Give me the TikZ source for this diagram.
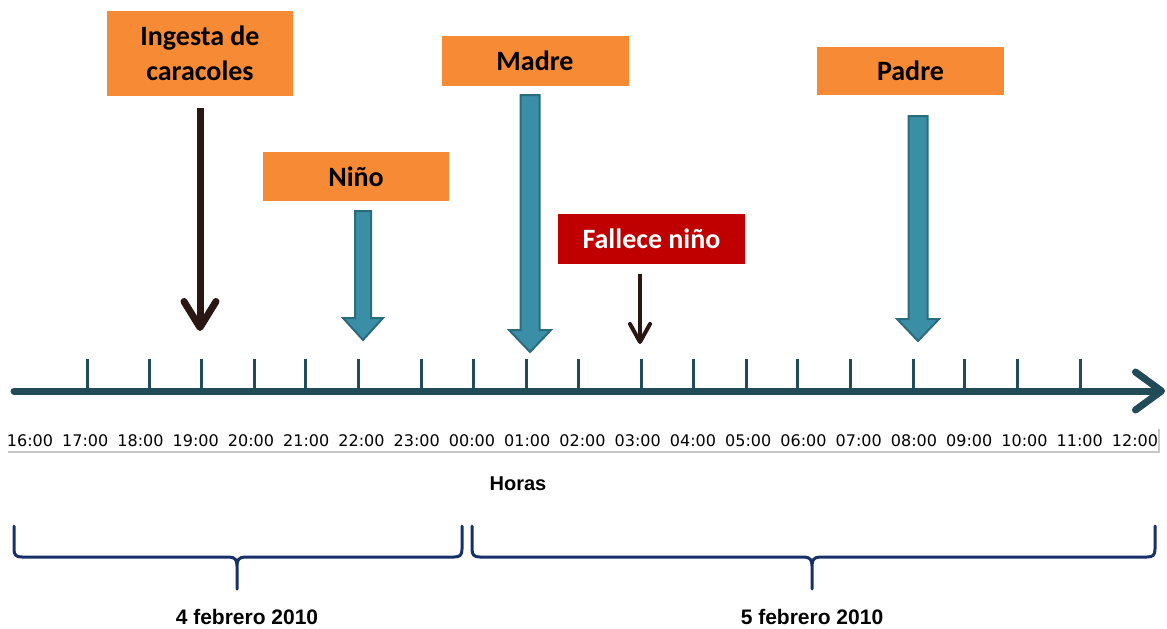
\documentclass[tikz,border=0pt]{standalone}
\usepackage{fontspec}
\usetikzlibrary{arrows.meta}
\newfontfamily\boxfont{Carlito}
\newfontfamily\capfont{Liberation Sans}
\newfontfamily\hourfont{DejaVu Sans}
\definecolor{boxorange}{HTML}{F78A34}
\definecolor{deathred}{HTML}{C00000}
\definecolor{axisteal}{HTML}{224B58}
\definecolor{blockfill}{HTML}{3A8FA6}
\definecolor{blockedge}{HTML}{2A6B7D}
\definecolor{barbbrown}{HTML}{2A1612}
\definecolor{bracenavy}{HTML}{17306A}
\tikzset{
  eventbox/.style={fill=boxorange, inner sep=0pt, align=center,
    font=\boxfont\bfseries\fontsize{28}{35}\selectfont, text=black},
  deathbox/.style={eventbox, fill=deathred, text=white},
  timeline/.style={draw=axisteal, line width=7pt, line cap=round,
    -{Straight Barb[length=26pt,width=38pt,round]}},
  hourtick/.style={draw=axisteal, line width=3pt},
  hourlabel/.style={font=\hourfont\fontsize{16}{19}\selectfont, text=black, inner sep=0pt},
  bigbarb/.style={draw=barbbrown, line width=7pt,
    -{Straight Barb[length=26pt,width=32pt,round]}},
  smallbarb/.style={draw=barbbrown, line width=4pt,
    -{Straight Barb[length=18pt,width=20pt,round]}},
  blockarrow/.style={fill=blockfill, draw=blockedge, line width=2pt, line join=miter},
  daybrace/.style={draw=bracenavy, line width=3pt, line cap=round, line join=round},
  caption/.style={font=\capfont\bfseries\fontsize{21}{25}\selectfont, text=black, inner sep=0pt},
}
\begin{document}
\begin{tikzpicture}[x=1pt, y=-1pt]
\useasboundingbox (0,0) rectangle (1167,629);

% event boxes
\node[eventbox, minimum width=186pt, minimum height=85pt] (ing) at (200,53) {Ingesta de\\caracoles};
\node[eventbox, minimum width=186pt, minimum height=49pt] (nino) at (356,176.5) {Niño};
\node[eventbox, minimum width=187pt, minimum height=50pt] (madre) at (535,61) {Madre};
\node[eventbox, minimum width=187pt, minimum height=48pt] (padre) at (910.5,71) {Padre};
\node[deathbox, minimum width=187pt, minimum height=50pt] (fallece) at (651.5,239) {Fallece niño};

% time axis
\coordinate (axL) at (14,391);
\coordinate (axR) at (1165,391);
\draw[timeline] (axL) -- (axR);
\foreach \x in {87,149,201,254,305,358,421,473,526,578,641,693,746,797,850,913,964,1017,1080}
  \draw[hourtick] (\x,359) -- (\x,391);

% hour labels
\foreach \h [count=\i from 0] in {16:00,17:00,18:00,19:00,20:00,21:00,22:00,23:00,00:00,01:00,02:00,03:00,04:00,05:00,06:00,07:00,08:00,09:00,10:00,11:00,12:00}
  \node[hourlabel] (h\i) at ({30+55.25*\i},441) {\h};
\draw[black!22, line width=1.5pt] (8,452) -- (1159,452) -- (1159,429);
\node[font=\capfont\bfseries\fontsize{20}{24}\selectfont, inner sep=0pt] (horas) at (518,484) {Horas};

% arrows from the black events
\coordinate (ingEnd) at (200,331);
\draw[bigbarb] ([yshift=-12pt]ing.south) -- (ingEnd);
\coordinate (falleceEnd) at (640,344);
\draw[smallbarb] ([xshift=-11.5pt, yshift=-10pt]fallece.south) -- (falleceEnd);

% block arrows: centre x, top, head base, tip, half shaft, half head
\foreach \cx/\tp/\hb/\tip/\sw/\hw in {363/211/318/340/8/20, 530/95/330/352/9.5/21, 918/116/319/341/9.5/21}
  \draw[blockarrow] ({\cx-\sw},\tp) -- ({\cx+\sw},\tp) -- ({\cx+\sw},\hb) -- ({\cx+\hw},\hb)
    -- (\cx,\tip) -- ({\cx-\hw},\hb) -- ({\cx-\sw},\hb) -- cycle;

% day braces
\foreach \a/\m/\b in {14/237/462, 472/812/1155}
  \draw[daybrace] (\a,526) -- (\a,549) .. controls (\a,555) and ({\a+2},557) .. ({\a+8},557)
    -- ({\m-8},557) .. controls ({\m-2},557) and (\m,560) .. (\m,566) -- (\m,589)
    (\m,566) .. controls (\m,560) and ({\m+2},557) .. ({\m+8},557)
    -- ({\b-8},557) .. controls ({\b-2},557) and (\b,555) .. (\b,549) -- (\b,526);
\node[caption] (day4) at (247,617) {4 febrero 2010};
\node[caption] (day5) at (812,617) {5 febrero 2010};
\end{tikzpicture}
\end{document}
